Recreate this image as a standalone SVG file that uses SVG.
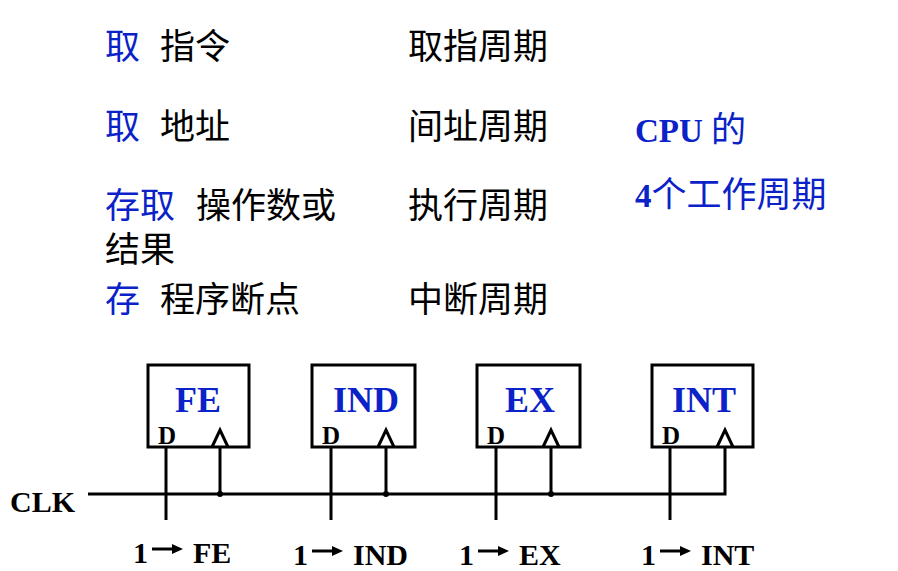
<svg xmlns="http://www.w3.org/2000/svg" width="898" height="571" viewBox="0 0 898 571">
<style>
.cn{font-family:"Noto Sans CJK SC","Noto Sans",sans-serif;font-size:35px;fill:#000}
.b{fill:#0a22c8}
.bt{font-family:"Liberation Serif","Noto Sans CJK SC",serif;font-weight:bold;font-size:33px;fill:#0a22c8}
.box{fill:#fff;stroke:#000;stroke-width:3}
.nm{font-family:"Liberation Serif",serif;font-weight:bold;font-size:36px;fill:#0a22c8;text-anchor:middle}
.d{font-family:"Liberation Serif",serif;font-weight:bold;font-size:25px;fill:#000}
.lb{font-family:"Liberation Serif",serif;font-weight:bold;font-size:30px;fill:#000}
.w{stroke:#000;stroke-width:3;fill:none}
</style>
<defs><g id="arr"><line x1="0" y1="0" x2="22" y2="0" stroke="#000" stroke-width="3"/><polygon points="20,-5 31,0 20,5" fill="#000"/></g></defs>
<rect width="898" height="571" fill="#fff"/>
<g id="text">
<text class="cn" x="105" y="59"><tspan class="b">取</tspan><tspan x="160">指令</tspan></text>
<text class="cn" x="408" y="59">取指周期</text>
<text class="cn" x="105" y="139"><tspan class="b">取</tspan><tspan x="160">地址</tspan></text>
<text class="cn" x="408" y="139">间址周期</text>
<text class="cn" x="105" y="218"><tspan class="b">存取</tspan><tspan x="196">操作数或</tspan></text>
<text class="cn" x="105" y="262">结果</text>
<text class="cn" x="408" y="218">执行周期</text>
<text class="cn" x="105" y="312"><tspan class="b">存</tspan><tspan x="160">程序断点</tspan></text>
<text class="cn" x="408" y="312">中断周期</text>
<text class="bt" x="635" y="142">CPU <tspan font-family="Noto Sans CJK SC" font-weight="normal" font-size="35">的</tspan></text>
<text class="bt" x="635" y="207">4<tspan font-family="Noto Sans CJK SC" font-weight="normal" font-size="35">个工作周期</tspan></text>
<text class="lb" x="10" y="512" font-size="26">CLK</text>
</g>
<g id="connectors">
<polyline class="w" points="88,494 725,494 725,447"/>
<line class="w" x1="166" y1="447" x2="166" y2="520"/>
<line class="w" x1="220" y1="447" x2="220" y2="494"/>
<line class="w" x1="331" y1="447" x2="331" y2="520"/>
<line class="w" x1="386" y1="447" x2="386" y2="494"/>
<line class="w" x1="496" y1="447" x2="496" y2="520"/>
<line class="w" x1="551" y1="447" x2="551" y2="494"/>
<line class="w" x1="670" y1="447" x2="670" y2="520"/>
<circle cx="220" cy="494" r="3"/><circle cx="386" cy="494" r="3"/><circle cx="551" cy="494" r="3"/>
</g>
<g id="FE"><rect class="box" x="148" y="365" width="101" height="82"/><text class="nm" x="198" y="412">FE</text><text class="d" x="158" y="444">D</text><polyline class="w" points="212,447 220,430 228,447"/><text class="lb" x="133" y="563">1</text><use href="#arr" x="152" y="549"/><text class="lb" x="193" y="563">FE</text></g>
<g id="IND"><rect class="box" x="312" y="365" width="103" height="82"/><text class="nm" x="366" y="412">IND</text><text class="d" x="322" y="444">D</text><polyline class="w" points="378,447 386,430 394,447"/><text class="lb" x="293" y="565">1</text><use href="#arr" x="312" y="551"/><text class="lb" x="353" y="565">IND</text></g>
<g id="EX"><rect class="box" x="477" y="365" width="103" height="82"/><text class="nm" x="530" y="412">EX</text><text class="d" x="487" y="444">D</text><polyline class="w" points="543,447 551,430 559,447"/><text class="lb" x="459" y="565">1</text><use href="#arr" x="478" y="551"/><text class="lb" x="519" y="565">EX</text></g>
<g id="INT"><rect class="box" x="652" y="365" width="101" height="82"/><text class="nm" x="704" y="412">INT</text><text class="d" x="662" y="444">D</text><polyline class="w" points="717,447 725,430 733,447"/><text class="lb" x="641" y="565">1</text><use href="#arr" x="660" y="551"/><text class="lb" x="701" y="565">INT</text></g>
</svg>
